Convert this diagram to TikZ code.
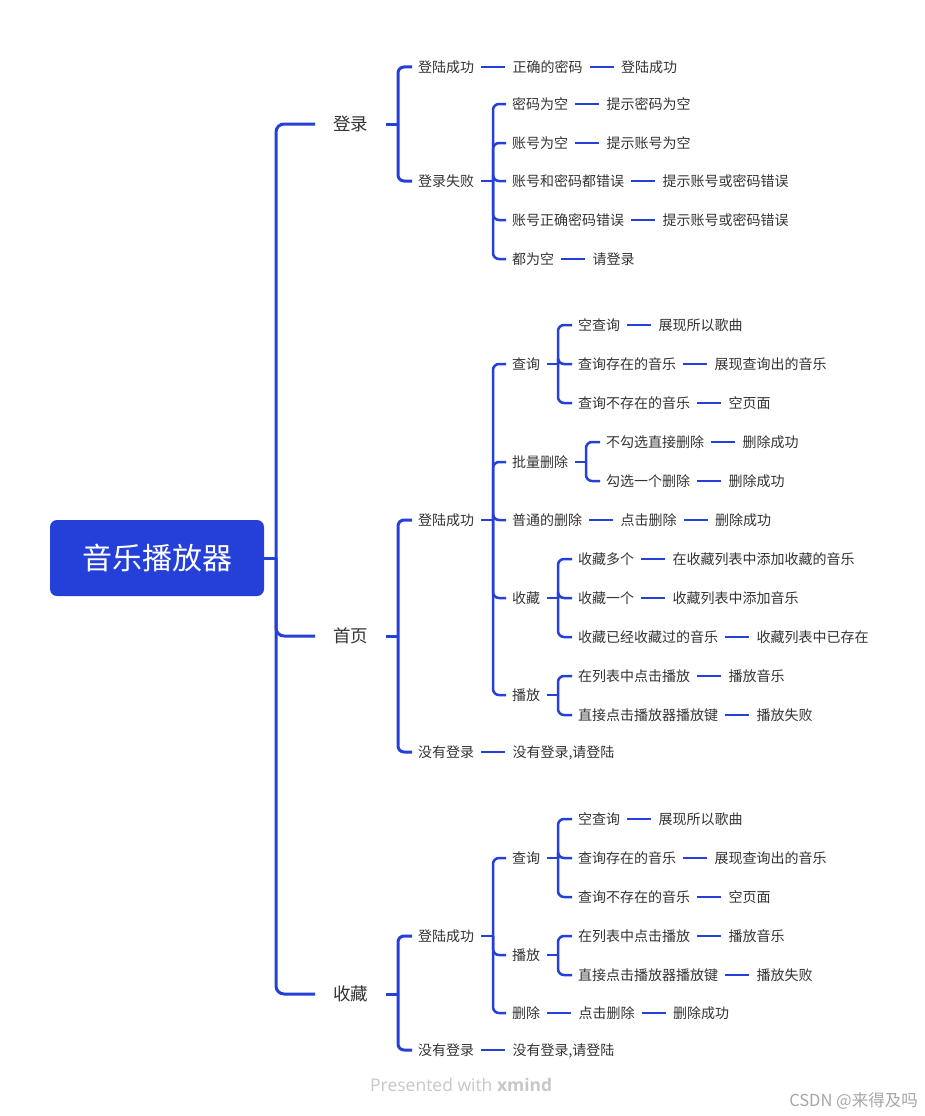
\documentclass[tikz,border=0pt]{standalone}
\usepackage{fontspec}
\setmainfont{Noto Sans CJK SC}
\newfontfamily\latf{Open Sans}
\usetikzlibrary{positioning}
\definecolor{mblue}{HTML}{2440D8}
\definecolor{txt}{HTML}{333333}
\newcommand\brk[4][7pt]{%
  \draw[conn] ([xshift=#1]#2.east) -- (#2.east -| #3);
  \draw[conn,rounded corners=6pt] (#2.east -| #3) -- (#3 |- #4.west) -- ([xshift=-6pt]#4.west);}
\newcommand\lk[2]{\draw[conn] ([xshift=7pt]#1.east) -- ([xshift=-7pt]#2.west);}
\begin{document}
\begin{tikzpicture}[x=1pt,y=-1pt,
  conn/.style={draw=mblue,line width=2.5pt},
  thick conn/.style={conn,line width=3pt},
  t/.style={anchor=west,inner sep=0pt,text=txt,font=\fontsize{14}{16}\selectfont,text height=12.3pt,text depth=1.7pt},
  lf/.style={t,right=38pt of #1},
  lone/.style={anchor=west,inner sep=0pt,text=txt,font=\fontsize{17.5}{20}\selectfont,text height=15.4pt,text depth=2.1pt},
  root/.style={fill=mblue,rounded corners=7pt,minimum width=214pt,minimum height=76pt,text=white,font=\fontsize{30}{34}\selectfont,inner sep=0pt}]
\useasboundingbox (0,0) rectangle (924,1116);
\coordinate (X0) at (276,0);
\coordinate (X1) at (398,0);
\coordinate (X2) at (493,0);
\coordinate (X3) at (558,0);
\coordinate (X4) at (586,0);
% root and level 1
\node[root] (r) at (157,558) {音乐播放器};
\node[lone] (dl) at (333,124) {登录};
\node[lone] (sy) at (333,636) {首页};
\node[lone] (sc) at (333,994) {收藏};
\draw[thick conn] (r.east) -- (r.east -| X0);
\foreach \n in {dl,sy,sc}
  \draw[thick conn,rounded corners=8pt] (r.east -| X0) -- (X0 |- \n.west) -- ([xshift=-18pt]\n.west);
% ---------- 登录
\node[t] (a1) at (418,67) {登陆成功};
\node[lf=a1] (a1a) {正确的密码};
\node[lf=a1a] (a1b) {登陆成功};
\node[t] (a2) at (418,181) {登录失败};
\node[t] (a21) at (512,104) {密码为空};
\node[lf=a21] (a21b) {提示密码为空};
\node[t] (a22) at (512,143) {账号为空};
\node[lf=a22] (a22b) {提示账号为空};
\node[t] (a23) at (512,181) {账号和密码都错误};
\node[lf=a23] (a23b) {提示账号或密码错误};
\node[t] (a24) at (512,220) {账号正确密码错误};
\node[lf=a24] (a24b) {提示账号或密码错误};
\node[t] (a25) at (512,259) {都为空};
\node[lf=a25] (a25b) {请登录};
\begin{scope}[conn/.append style={line width=3pt}]
\brk[18pt]{dl}{X1}{a1}
\brk[18pt]{dl}{X1}{a2}
\end{scope}
\lk{a1}{a1a}\lk{a1a}{a1b}
\foreach \c in {a21,a22,a23,a24,a25}{\brk{a2}{X2}{\c}\lk{\c}{\c b}}
% ---------- 首页
\node[t] (b1) at (418,520) {登陆成功};
\node[t] (b11) at (512,364) {查询};
\node[t] (b111) at (578,325) {空查询};
\node[lf=b111] (b111b) {展现所以歌曲};
\node[t] (b112) at (578,364) {查询存在的音乐};
\node[lf=b112] (b112b) {展现查询出的音乐};
\node[t] (b113) at (578,403) {查询不存在的音乐};
\node[lf=b113] (b113b) {空页面};
\node[t] (b12) at (512,462) {批量删除};
\node[t] (b121) at (606,442) {不勾选直接删除};
\node[lf=b121] (b121b) {删除成功};
\node[t] (b122) at (606,481) {勾选一个删除};
\node[lf=b122] (b122b) {删除成功};
\node[t] (b13) at (512,520) {普通的删除};
\node[lf=b13] (b13a) {点击删除};
\node[lf=b13a] (b13b) {删除成功};
\node[t] (b14) at (512,598) {收藏};
\node[t] (b141) at (578,559) {收藏多个};
\node[lf=b141] (b141b) {在收藏列表中添加收藏的音乐};
\node[t] (b142) at (578,598) {收藏一个};
\node[lf=b142] (b142b) {收藏列表中添加音乐};
\node[t] (b143) at (578,637) {收藏已经收藏过的音乐};
\node[lf=b143] (b143b) {收藏列表中已存在};
\node[t] (b15) at (512,695) {播放};
\node[t] (b151) at (578,676) {在列表中点击播放};
\node[lf=b151] (b151b) {播放音乐};
\node[t] (b152) at (578,715) {直接点击播放器播放键};
\node[lf=b152] (b152b) {播放失败};
\node[t] (b2) at (418,752) {没有登录};
\node[lf=b2] (b2b) {没有登录,请登陆};
\begin{scope}[conn/.append style={line width=3pt}]
\brk[18pt]{sy}{X1}{b1}
\brk[18pt]{sy}{X1}{b2}
\end{scope}
\lk{b2}{b2b}
\foreach \c in {b11,b12,b13,b14,b15}{\brk{b1}{X2}{\c}}
\foreach \c in {b111,b112,b113}{\brk{b11}{X3}{\c}\lk{\c}{\c b}}
\foreach \c in {b121,b122}{\brk{b12}{X4}{\c}\lk{\c}{\c b}}
\lk{b13}{b13a}\lk{b13a}{b13b}
\foreach \c in {b141,b142,b143}{\brk{b14}{X3}{\c}\lk{\c}{\c b}}
\foreach \c in {b151,b152}{\brk{b15}{X3}{\c}\lk{\c}{\c b}}
% ---------- 收藏
\node[t] (c1) at (418,936) {登陆成功};
\node[t] (c11) at (512,858) {查询};
\node[t] (c111) at (578,819) {空查询};
\node[lf=c111] (c111b) {展现所以歌曲};
\node[t] (c112) at (578,858) {查询存在的音乐};
\node[lf=c112] (c112b) {展现查询出的音乐};
\node[t] (c113) at (578,897) {查询不存在的音乐};
\node[lf=c113] (c113b) {空页面};
\node[t] (c12) at (512,955) {播放};
\node[t] (c121) at (578,936) {在列表中点击播放};
\node[lf=c121] (c121b) {播放音乐};
\node[t] (c122) at (578,975) {直接点击播放器播放键};
\node[lf=c122] (c122b) {播放失败};
\node[t] (c13) at (512,1013) {删除};
\node[lf=c13] (c13a) {点击删除};
\node[lf=c13a] (c13b) {删除成功};
\node[t] (c2) at (418,1050) {没有登录};
\node[lf=c2] (c2b) {没有登录,请登陆};
\begin{scope}[conn/.append style={line width=3pt}]
\brk[18pt]{sc}{X1}{c1}
\brk[18pt]{sc}{X1}{c2}
\end{scope}
\lk{c2}{c2b}
\foreach \c in {c11,c12,c13}{\brk{c1}{X2}{\c}}
\foreach \c in {c111,c112,c113}{\brk{c11}{X3}{\c}\lk{\c}{\c b}}
\foreach \c in {c121,c122}{\brk{c12}{X3}{\c}\lk{\c}{\c b}}
\lk{c13}{c13a}\lk{c13a}{c13b}
% footer
\node[anchor=west,inner sep=0pt,text=black!22,font=\latf\fontsize{17.5}{20}\selectfont] (pw) at (370,1085) {Presented with \textbf{xmind}};
\node[anchor=east,inner sep=0pt,text=black!35,font=\fontsize{16.5}{18}\selectfont] (wm) at (918,1101) {CSDN @来得及吗};
\end{tikzpicture}
\end{document}
